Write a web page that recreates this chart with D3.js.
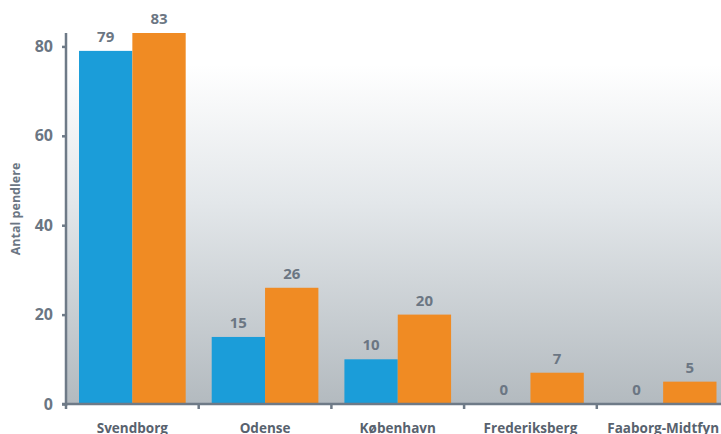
<!DOCTYPE html>
<html><head><meta charset="utf-8">
<script src="https://cdn.jsdelivr.net/npm/d3@7"></script>
<style>body{margin:0;background:#fff}svg{display:block}</style>
</head><body>
<script>
const categories = ["Svendborg","Odense","København","Frederiksberg","Faaborg-Midtfyn"];
const seriesNames = ["Serie 1","Serie 2"];
const series1 = [79,15,10,0,0];
const series2 = [83,26,20,7,5];
const yTicks = [0,20,40,60,80];
const yTitle = "Antal pendlere";
const colors = ["#1b9dd9","#f08b23"];

const W=721,H=434;
const mLeft=66, mBottom=404, mTop=33;
const axisColor="#6e7a87", textColor="#6b7683", catColor="#58626e";
const font="'Open Sans', sans-serif";

const svg=d3.select("body").append("svg").attr("width",W).attr("height",H);
const defs=svg.append("defs");
const g=defs.append("linearGradient").attr("id","bg")
  .attr("gradientUnits","userSpaceOnUse").attr("x1",0).attr("y1",0).attr("x2",0).attr("y2",mBottom);
g.append("stop").attr("offset",0.16).attr("stop-color","#ffffff");
g.append("stop").attr("offset",0.5).attr("stop-color","#e3e7ea");
g.append("stop").attr("offset",1).attr("stop-color","#b3babf");
svg.append("rect").attr("x",mLeft).attr("y",0).attr("width",W-mLeft).attr("height",mBottom).attr("fill","url(#bg)");

const y=d3.scaleLinear().domain([0,83]).range([mBottom,mTop]);
const x0=d3.scaleBand().domain(categories).range([mLeft,mLeft+5*132.7]);
const x1=d3.scaleBand().domain(seriesNames).range([0,x0.bandwidth()]).paddingOuter(0.244).paddingInner(0);

const data=categories.map((c,i)=>({c,vals:[series1[i],series2[i]]}));
const grp=svg.selectAll("g.cat").data(data).join("g").attr("class","cat").attr("transform",d=>`translate(${x0(d.c)},0)`);
grp.selectAll("rect").data(d=>d.vals.map((v,j)=>({v,j}))).join("rect")
  .attr("x",d=>x1(seriesNames[d.j])).attr("width",x1.bandwidth())
  .attr("y",d=>y(d.v)).attr("height",d=>y(0)-y(d.v)).attr("fill",d=>colors[d.j]);
grp.selectAll("text.val").data(d=>d.vals.map((v,j)=>({v,j}))).join("text").attr("class","val")
  .attr("x",d=>x1(seriesNames[d.j])+x1.bandwidth()/2).attr("y",d=>y(d.v)-9)
  .attr("text-anchor","middle").attr("font-family",font).attr("font-weight",700)
  .attr("font-size",15).attr("fill",textColor).text(d=>d.v);

// y axis
const ya=svg.append("g").attr("transform",`translate(${mLeft},0)`)
  .call(d3.axisLeft(y).tickValues(yTicks).tickSize(4).tickPadding(9).tickSizeOuter(0));
ya.select(".domain").attr("stroke",axisColor).attr("stroke-width",2.5).attr("d",`M0,${mTop}V${mBottom+2}`);
ya.selectAll(".tick line").attr("stroke",axisColor).attr("stroke-width",2.5);
ya.selectAll(".tick text").attr("font-family",font).attr("font-weight",700).attr("font-size",16).attr("fill",textColor);

// x axis
const xa=svg.append("g");
xa.append("line").attr("x1",mLeft-4).attr("x2",W).attr("y1",mBottom).attr("y2",mBottom).attr("stroke",axisColor).attr("stroke-width",2.5);
xa.selectAll("line.t").data(categories).join("line").attr("class","t")
  .attr("x1",d=>x0(d)).attr("x2",d=>x0(d)).attr("y1",mBottom).attr("y2",mBottom+5).attr("stroke",axisColor).attr("stroke-width",2.5);
xa.selectAll("text").data(categories).join("text")
  .attr("x",d=>x0(d)+x0.bandwidth()/2).attr("y",mBottom+29).attr("text-anchor","middle")
  .attr("font-family",font).attr("font-weight",700).attr("font-size",13.5).attr("fill",catColor).text(d=>d);

svg.append("text").attr("transform",`translate(20,209) rotate(-90)`).attr("text-anchor","middle")
  .attr("font-family",font).attr("font-weight",700).attr("font-size",12.5).attr("fill",textColor).text(yTitle);
</script>
</body></html>
